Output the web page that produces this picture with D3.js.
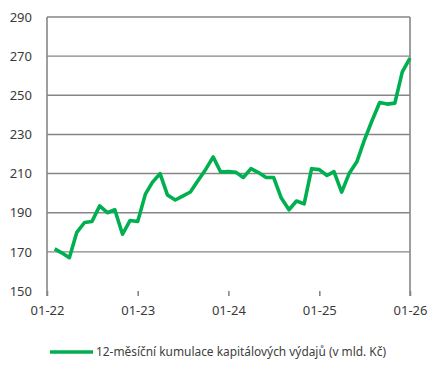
<!DOCTYPE html>
<html>
<head>
<meta charset="utf-8">
<script src="https://cdn.jsdelivr.net/npm/d3@7"></script>
<style>
  body { margin: 0; background: #fff; }
  text { font-family: 'Noto Sans', sans-serif; }
</style>
</head>
<body>
<script>
// months (end of month points), Jan 2022 .. Dec 2025
var months = [];
for (var y = 2022; y <= 2025; y++) {
  for (var m = 1; m <= 12; m++) months.push(y + "-" + String(m).padStart(2, "0"));
}
// 12-month cumulative capital expenditure, bn CZK
var values = [
  171.5, 169.5, 167, 180, 185, 185.5, 193.5, 190, 191.5, 179, 186, 185.5,
  199.5, 205.5, 210, 199, 196.5, 198.5, 200.6, 206.5, 212, 218.5, 210.8, 211,
  210.6, 208, 212.5, 210.5, 208, 208, 197.5, 191.5, 196, 194.5, 212.5, 212,
  209, 211, 200.5, 210, 216, 227, 237, 246.3, 245.5, 246, 262, 269
];
var yTicks = [150, 170, 190, 210, 230, 250, 270, 290];
var xTicks = ["2022-01", "2023-01", "2024-01", "2025-01", "2026-01"];
var seriesName = "12-měsíční kumulace kapitálových výdajů (v mld. Kč)";

var width = 443, height = 372;
var margin = { top: 17, right: 33, bottom: 81, left: 47 };
var parse = d3.timeParse("%Y-%m");
var fmt = d3.timeFormat("%m-%y");

var data = months.map((d, i) => ({ date: d3.timeMonth.offset(parse(d), 1), value: values[i] }));

var x = d3.scaleTime()
  .domain([parse(xTicks[0]), parse(xTicks[xTicks.length - 1])])
  .range([margin.left, width - margin.right]);
var yScale = d3.scaleLinear()
  .domain([150, 290])
  .range([height - margin.bottom, margin.top]);

var svg = d3.select("body").append("svg")
  .attr("width", width)
  .attr("height", height);

// grid lines
svg.append("g")
  .selectAll("line")
  .data(yTicks.filter(d => d > 150))
  .enter().append("line")
  .attr("x1", margin.left).attr("x2", width - margin.right)
  .attr("y1", d => yScale(d)).attr("y2", d => yScale(d))
  .attr("stroke", "#868686").attr("stroke-width", 1.4);

// y axis
svg.append("g")
  .attr("transform", `translate(${margin.left},0)`)
  .call(d3.axisLeft(yScale).tickValues(yTicks).tickSize(0).tickPadding(15))
  .call(g => g.select(".domain").remove())
  .call(g => g.selectAll("text").attr("font-size", 13).attr("fill", "#3a3a3a"));

// x axis ticks
svg.append("g")
  .attr("transform", `translate(0,${height - margin.bottom})`)
  .call(d3.axisBottom(x).tickValues(xTicks.map(parse)).tickFormat(fmt).tickSize(5).tickPadding(10))
  .call(g => g.select(".domain").remove())
  .call(g => g.selectAll("line").attr("stroke", "#868686").attr("stroke-width", 1.6))
  .call(g => g.selectAll("text").attr("font-size", 13).attr("fill", "#3a3a3a"));

// left and right frame lines
[margin.left, width - margin.right].forEach(function (px) {
  svg.append("line")
    .attr("x1", px).attr("x2", px)
    .attr("y1", margin.top).attr("y2", height - margin.bottom + 5)
    .attr("stroke", "#868686").attr("stroke-width", 1.6);
});

// series line
var line = d3.line()
  .x(d => x(d.date))
  .y(d => yScale(d.value));
svg.append("path")
  .datum(data)
  .attr("d", line)
  .attr("fill", "none")
  .attr("stroke", "#00b050")
  .attr("stroke-width", 3.6)
  .attr("stroke-linejoin", "round");

// legend
svg.append("line")
  .attr("x1", 50).attr("x2", 93)
  .attr("y1", 352).attr("y2", 352)
  .attr("stroke", "#00b050").attr("stroke-width", 3.6);
svg.append("text")
  .attr("x", 96).attr("y", 352)
  .attr("dy", "0.35em")
  .attr("font-size", 11.9)
  .attr("fill", "#404040")
  .text(seriesName);
</script>
</body>
</html>
